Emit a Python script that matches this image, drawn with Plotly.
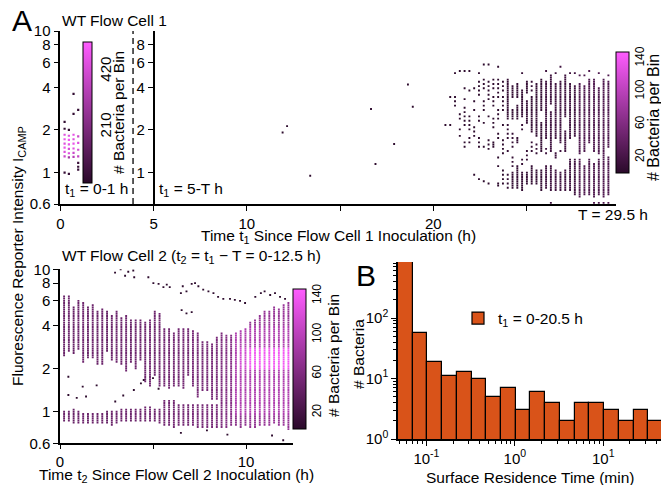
import numpy as np
import plotly.graph_objects as go

W, H = 661, 485

# ---------------- data ----------------
Y_TICKS = [0.6, 1, 2, 4, 6, 8, 10]
Y2_TICKS = [1, 2, 4, 6, 8]
X1_TICKS = [0, 5, 10, 15, 20, 25]
X1_TICKTEXT = ["0", "5", "10", "", "20", ""]
X2_TICKS = [0, 5, 10]
X2_TICKTEXT = ["0", "", "10"]
CB_TICKS_EARLY = [210, 420]
CB_TICKS = [20, 60, 100, 140]

# Flow cell 1, t1 = 0-1 h : bins (time h, intensity, bacteria per bin)
EARLY_T = [0.23, 0.23, 0.23, 0.23, 0.23, 0.23, 0.23, 0.23, 0.23,
           0.46, 0.46, 0.46, 0.46, 0.46, 0.46, 0.46, 0.46,
           0.71, 0.71, 0.71, 0.71, 0.71, 0.71, 0.71, 0.71,
           0.96, 0.96, 0.96, 0.96, 0.96, 0.96, 0.96, 0.96]
EARLY_I = [2.28, 2.04, 1.85, 1.72, 1.60, 1.50, 1.40, 1.30, 1.00,
           2.00, 1.82, 1.70, 1.58, 1.47, 1.37, 1.28, 0.98,
           3.60, 2.60, 1.85, 1.72, 1.60, 1.48, 1.38, 1.29,
           2.77, 1.80, 1.62, 1.45, 1.30, 1.17, 1.10, 1.05]
EARLY_N = [20, 20, 450, 480, 450, 480, 450, 400, 30,
           30, 450, 500, 470, 430, 450, 300, 30,
           20, 20, 470, 450, 480, 460, 400, 350,
           25, 400, 450, 420, 380, 40, 30, 30]

# Flow cell 1, isolated bins between 5 h and 20 h
MID_T = [11.92, 12.16, 13.40, 16.66, 16.90, 17.90, 18.64, 18.90]
MID_I = [1.92, 2.13, 0.95, 2.81, 1.15, 1.59, 4.19, 2.92]
MID_N = [3, 3, 3, 3, 3, 3, 3, 3]

# Flow cell 1, t1 = 20.6-29.4 h : per time column, occupied intensity runs
# [low, high, (every n-th bin)]
TR_T0, TR_DT = 20.65, 0.257
TR_COLS = [
    [[2.2, 2.2]],
    [[3.4, 3.4], [2.17, 2.17]],
    [[5.0, 5.0], [3.0, 3.5, 2]],
    [[5.3, 5.3], [2.4, 2.65, 2], [1.8, 2.1, 3]],
    [[5.15, 5.15], [3.9, 3.9], [3.3, 3.3], [2.15, 2.95, 2], [1.5, 1.7, 2]],
    [[5.15, 5.15], [3.85, 3.85], [2.0, 2.6, 2], [1.65, 1.75, 2]],
    [[3.9, 3.9], [3.2, 3.2], [2.8, 2.8], [1.8, 2.1, 2], [0.97, 0.97]],
    [[5.0, 5.0], [3.5, 4.3, 2], [2.35, 2.5, 2], [1.55, 1.73, 2], [0.9, 0.9]],
    [[5.74, 5.74], [3.9, 4.5, 2], [2.8, 3.2, 2], [2.26, 2.26], [1.55, 1.55], [0.86, 0.86]],
    [[5.85, 5.85], [3.3, 4.6, 2], [2.5, 2.5], [1.45, 1.73, 2], [0.84, 0.84]],
    [[4.0, 4.6, 2], [2.95, 3.5, 2], [2.1, 2.4, 2], [1.55, 1.65]],
    [[5.5, 5.5], [3.4, 4.5, 2], [2.4, 2.8, 2], [1.73, 1.93, 2], [1.3, 1.3], [1.1, 1.1], [0.8, 0.84]],
    [[3.85, 4.3, 2], [2.8, 3.46, 2], [2.14, 2.14], [1.37, 1.73, 2], [0.84, 1.04, 2]],
    [[2.38, 4.5], [1.73, 2.26, 2], [1.44, 1.44], [0.79, 1.0, 2]],
    [[3.46, 4.06], [2.38, 2.79], [1.55, 1.93, 2], [1.1, 1.3, 2], [0.79, 1.0]],
    [[3.46, 4.28], [2.38, 2.95], [1.64, 1.73], [0.79, 1.1]],
    [[5.0, 5.0], [2.5, 3.85], [2.03, 2.26, 2], [1.16, 1.3, 2], [0.75, 1.0]],
    [[3.65, 4.4], [2.26, 3.2], [1.23, 1.44, 2], [0.84, 0.99]],
    [[3.85, 4.51, 2], [1.93, 3.46], [1.44, 1.64, 2], [0.84, 1.1]],
    [[1.83, 4.28], [1.37, 1.64, 2], [0.84, 1.04]],
    [[2.79, 4.51], [1.44, 2.26], [0.75, 1.04]],
    [[5.3, 5.3], [1.73, 4.4], [1.37, 1.5, 2], [0.79, 1.1]],
    [[3.11, 4.8], [1.44, 2.65], [0.75, 1.1], [0.62, 0.62]],
    [[5.0, 5.0], [1.73, 4.28], [1.3, 1.37], [0.75, 1.04]],
    [[5.5, 5.5], [1.64, 4.4], [1.44, 1.44], [0.75, 0.99]],
    [[2.51, 4.9], [1.44, 1.93], [0.75, 1.04]],
    [[5.0, 5.0], [1.73, 4.28], [0.75, 1.23]],
    [[5.0, 5.0], [1.83, 4.06], [0.71, 1.23]],
    [[4.9, 4.9], [1.37, 4.28], [0.67, 1.23]],
    [[4.8, 4.8], [1.44, 4.06], [0.71, 1.1]],
    [[5.2, 5.2], [1.64, 4.5], [0.71, 1.23]],
    [[1.44, 4.5], [0.67, 1.16], [0.61, 0.61]],
    [[5.1, 5.1], [1.37, 4.0], [0.71, 1.23], [0.62, 0.62]],
    [[1.44, 4.51], [0.67, 1.37], [0.61, 0.61]],
    [[4.8, 4.8], [1.55, 4.4], [0.71, 1.3], [0.61, 0.61]],
]
TR_N = [3, 3, 3, 3, 3, 3, 3, 3, 3, 3, 3, 3, 3,
        8, 8, 8, 8, 8, 8, 8, 8,
        15, 15, 15, 15, 15, 15, 15,
        25, 25, 25, 25, 25, 25, 25]

# Flow cell 2, t2 = 0-12.5 h : per time column, upper and lower bands
BOT_T0, BOT_DT = 0.22, 0.2566
BOT_UP_LO = [2.47, 2.71, 2.56, 2.80, 2.25, 2.43, 2.37, 2.19, 2.13, 2.63, 2.31, 2.25,
             2.13, 1.92, 2.25, 2.03, 2.31, 1.63, 1.54, 1.81, 1.54, 1.54, 1.46, 1.54,
             1.50, 1.46, 1.80, 1.54, 1.30, 1.40, 1.40, 1.25, 1.25, 1.15, 1.10, 1.10,
             1.10, 1.10, 1.10, 1.10, 1.10, 1.10, 1.10, 1.10, 1.10, 1.10, 1.10, 1.10]
BOT_UP_HI = [6.39, 6.45, 5.46, 6.09, 5.80, 5.46, 5.60, 5.00, 5.17, 5.00, 4.77, 5.00,
             4.60, 4.77, 4.40, 4.30, 4.30, 4.20, 4.40, 5.00, 4.90, 3.75, 3.75, 3.60,
             3.85, 3.85, 3.75, 3.65, 3.55, 3.10, 3.10, 2.94, 3.28, 3.55, 3.46, 3.37,
             3.55, 3.65, 3.85, 4.20, 4.40, 4.77, 5.00, 5.00, 5.40, 5.30, 5.60, 5.90]
BOT_LOW_LO = [0.87, 0.87, 0.85, 0.85, 0.85, 0.85, 0.84, 0.84, 0.83, 0.85, 0.82, 0.85,
              0.86, 0.86, 0.87, 0.87, 0.87, 0.88, 0.88, 0.87, 0.85, 0.80, 0.80, 0.77,
              0.80, 0.80, 0.80, 0.80, 0.78, 0.78, 0.78, 0.78, 0.78, 0.78, 0.78, 0.80,
              0.80, 0.78, 0.80, 0.78, 0.78, 0.80, 0.80, 0.80, 0.83, 0.80, 0.80, 0.76]
BOT_LOW_HI = [1.00, 1.00, 1.05, 1.00, 0.98, 0.98, 0.98, 0.98, 0.98, 1.00, 1.00, 1.00,
              1.02, 1.04, 1.05, 1.05, 1.05, 1.06, 1.06, 1.05, 1.05, 1.20, 1.20, 1.20,
              1.10, 1.10, 1.10, 1.10, 1.10, 1.10, 1.10, 1.10, 1.10, 1.10, 1.10, 1.10,
              1.10, 1.10, 1.10, 1.10, 1.10, 1.10, 1.10, 1.10, 1.10, 1.10, 1.10, 1.10]
BOT_N = [45, 48, 43, 46, 48, 45, 47, 44, 46, 43, 45, 47,
         46, 48, 45, 47, 46, 48, 50, 47, 49, 50, 52, 50,
         51, 52, 50, 53, 54, 52, 55, 54, 56, 58, 62, 64,
         66, 68, 70, 72, 72, 74, 75, 75, 76, 76, 78, 75]
# brighter zones: [first column, last column, low I, high I, count]
BOT_ZONES = [[36, 47, 0.95, 4.0, 92],
             [37, 38, 2.0, 2.8, 115],
             [39, 47, 2.0, 2.8, 138]]
# isolated bins in flow cell 2
BOT_SP_T = [2.96, 3.26, 3.50, 3.67, 3.94, 3.99, 4.75, 5.02, 5.30, 5.56, 5.74, 5.90,
            6.50, 6.60, 6.80, 7.08, 7.26, 7.44, 7.70, 7.98, 8.25, 8.50, 8.78, 9.14,
            9.40, 9.68, 9.95, 10.50, 10.80, 11.00, 11.30, 11.56, 11.83, 12.10,
            6.54, 6.80, 7.08, 0.45, 0.45, 0.90, 1.22, 1.40, 1.97, 2.97, 3.40, 3.97,
            4.35, 4.50, 5.00, 5.30, 6.50, 7.90, 9.00, 11.40, 12.00]
BOT_SP_I = [9.47, 10.0, 9.0, 9.6, 9.8, 8.8, 8.8, 8.0, 7.9, 7.5, 7.8, 7.5,
            6.8, 7.6, 7.0, 7.9, 8.0, 7.6, 7.2, 7.0, 6.8, 6.4, 6.2, 6.2,
            6.1, 6.0, 5.8, 6.4, 6.8, 7.0, 6.6, 6.8, 6.4, 6.2,
            5.17, 4.9, 5.0, 1.76, 1.31, 1.25, 1.50, 1.28, 1.53, 1.18, 1.30, 1.42,
            1.58, 1.67, 1.72, 1.45, 0.71, 0.74, 0.69, 0.68, 0.63]

# Panel B histogram: log10 bin layout (min) and counts
B_LOG_EDGE0, B_LOG_BINW = -1.322, 0.1665
B_COUNTS = [850, 56, 19, 11, 13, 10, 5, 7, 3, 6, 4, 2, 4, 4, 3, 2, 3, 2]
B_XTICKS = [-1, 0, 1]
B_XTICKTEXT = ["10<sup>-1</sup>", "10<sup>0</sup>", "10<sup>1</sup>"]
B_YTICKS = [1, 10, 100]
B_YTICKTEXT = ["10<sup>0</sup>", "10<sup>1</sup>", "10<sup>2</sup>"]

# ---------------- helpers ----------------
def px(x):
    return x / W


def py(y):
    return 1 - y / H


LOG_LO = np.log10(0.6)
NBIN = 80
STEP = (1.0 - LOG_LO) / NBIN
CENTERS = LOG_LO + (np.arange(NBIN) + 0.5) * STEP


def bidx(v):
    return int(np.clip(round((np.log10(v) - LOG_LO) / STEP - 0.5), 0, NBIN - 1))


def run_bins(lo, hi, s=1):
    return list(range(bidx(lo), bidx(hi) + 1, s))


# top right cells
tr_x, tr_y, tr_c = list(MID_T), list(MID_I), list(MID_N)
for k, ivs in enumerate(TR_COLS):
    t = TR_T0 + TR_DT * k
    seen = set()
    for iv in ivs:
        s = iv[2] if len(iv) > 2 else 1
        for b in run_bins(iv[0], iv[1], s):
            if b in seen:
                continue
            seen.add(b)
            tr_x.append(t)
            tr_y.append(10 ** CENTERS[b])
            tr_c.append(TR_N[k])

# bottom cells
cells = {}
for k in range(len(BOT_N)):
    for b in run_bins(BOT_UP_LO[k], BOT_UP_HI[k]) + run_bins(BOT_LOW_LO[k], BOT_LOW_HI[k]):
        cells[(k, b)] = BOT_N[k]
for k0, k1, lo, hi, n in BOT_ZONES:
    for k in range(k0, k1 + 1):
        for b in run_bins(lo, hi):
            if (k, b) in cells:
                cells[(k, b)] = n
bot_x = [BOT_T0 + BOT_DT * k for (k, b) in cells] + BOT_SP_T
bot_y = [10 ** CENTERS[b] for (k, b) in cells] + BOT_SP_I
bot_c = list(cells.values()) + [6] * len(BOT_SP_T)

CSCALE = [[0, "#2a0a2a"], [1, "#ff5cff"]]
FONT = "Liberation Sans, Arial, sans-serif"
MS = 1.9
TICK = 15
TITLE = 15.5


def cbar(x0, thick, length, ycen, ticks, fsize):
    return dict(x=px(x0), xanchor="left", xpad=0, ypad=0,
                thickness=thick, thicknessmode="pixels",
                len=length, lenmode="pixels", y=py(ycen), yanchor="middle",
                tickvals=ticks, tickangle=-90, ticks="",
                tickfont=dict(size=fsize, family=FONT, color="black"),
                outlinewidth=1, outlinecolor="black")


fig = go.Figure()

fig.add_trace(go.Scatter(
    x=EARLY_T, y=EARLY_I, mode="markers", xaxis="x", yaxis="y", showlegend=False,
    marker=dict(symbol="square", size=2.2, color=EARLY_N, colorscale=CSCALE,
                cmin=1, cmax=532, showscale=True,
                colorbar=cbar(83, 9, 141, 112.2, CB_TICKS_EARLY, 15))))

fig.add_trace(go.Scatter(
    x=tr_x, y=tr_y, mode="markers", xaxis="x", yaxis="y", showlegend=False,
    marker=dict(symbol="square", size=MS, color=tr_c, colorscale=CSCALE,
                cmin=1, cmax=148, showscale=True,
                colorbar=cbar(616, 13, 121, 112.3, CB_TICKS, 12))))

fig.add_trace(go.Scatter(x=[None], y=[None], xaxis="x", yaxis="y2",
                         showlegend=False, mode="markers"))

fig.add_trace(go.Scatter(
    x=bot_x, y=bot_y, mode="markers", xaxis="x2", yaxis="y3", showlegend=False,
    marker=dict(symbol="square", size=MS, color=bot_c, colorscale=CSCALE,
                cmin=3, cmax=147, showscale=True,
                colorbar=cbar(293, 13, 140, 359, CB_TICKS, 12))))

b_centers = [B_LOG_EDGE0 + B_LOG_BINW * (k + 0.5) for k in range(len(B_COUNTS))]
fig.add_trace(go.Bar(
    x=b_centers, y=B_COUNTS, width=B_LOG_BINW, xaxis="x3", yaxis="y4",
    name="t<sub>1</sub> = 0-20.5 h", showlegend=True,
    marker=dict(color="#D95319", line=dict(color="black", width=1.2))))

axis_common = dict(showline=True, linecolor="black", linewidth=1.5, ticks="outside",
                   ticklen=5, tickwidth=1.3, tickcolor="black", showgrid=False,
                   zeroline=False, automargin=False,
                   tickfont=dict(size=TICK, family=FONT, color="black"))

top_x0, top_x1 = 60.3, 60.3 + 29.8 * 18.65
bot_x0, bot_x1 = 60.0, 60.0 + 12.5 * 18.6

x_minor = [np.log10(m * 10.0 ** d) for d in (-2, -1, 0, 1) for m in range(2, 10)
           if -1.3215 < np.log10(m * 10.0 ** d) < 1.653]
y_minor = [m * 10 ** d for d in (0, 1, 2) for m in range(2, 10) if m * 10 ** d < 840]

fig.update_layout(
    width=W, height=H, margin=dict(l=0, r=0, t=0, b=0, autoexpand=False),
    template="none",
    paper_bgcolor="white", plot_bgcolor="white",
    font=dict(family=FONT, size=TICK, color="black"),
    xaxis=dict(axis_common, domain=[px(top_x0), px(top_x1)], range=[0, 29.8],
               anchor="y", tickvals=X1_TICKS, ticktext=X1_TICKTEXT, linewidth=2),
    yaxis=dict(axis_common, domain=[py(204), py(31)], type="log",
               range=[np.log10(0.6), 1], anchor="x", tickvals=Y_TICKS,
               ticktext=[str(v) for v in Y_TICKS]),
    yaxis2=dict(axis_common, overlaying="y", anchor="free",
                position=px(top_x0 + 5 * 18.65), type="log",
                range=[np.log10(0.6), 1], tickvals=Y2_TICKS,
                ticktext=[str(v) for v in Y2_TICKS], side="left"),
    xaxis2=dict(axis_common, domain=[px(bot_x0), px(bot_x1)], range=[0, 12.5],
                anchor="y3", tickvals=X2_TICKS, ticktext=X2_TICKTEXT, linewidth=2,
                ticklen=4),
    yaxis3=dict(axis_common, domain=[py(443.3), py(269.3)], type="log",
                range=[np.log10(0.6), 1], anchor="x2", tickvals=Y_TICKS,
                ticktext=[str(v) for v in Y_TICKS]),
    xaxis3=dict(axis_common, domain=[px(398), 1.0], range=[-1.3215, 1.653],
                anchor="y4", tickvals=B_XTICKS, ticktext=B_XTICKTEXT,
                minor=dict(tickmode="array", tickvals=x_minor, ticks="outside",
                           ticklen=3, tickcolor="black", tickwidth=1)),
    yaxis4=dict(axis_common, domain=[py(439), py(262)], type="log",
                range=[0, 2.926], anchor="x3", tickvals=B_YTICKS,
                ticktext=B_YTICKTEXT,
                minor=dict(tickmode="array", tickvals=y_minor, ticks="outside",
                           ticklen=3, tickcolor="black", tickwidth=1)),
    bargap=0,
    legend=dict(x=px(458), y=py(318.5), xanchor="left", yanchor="middle",
                bgcolor="rgba(0,0,0,0)", font=dict(size=TITLE, family=FONT)),
    shapes=[dict(type="line", xref="x", yref="paper", x0=3.9, x1=3.9,
                 y0=py(204), y1=py(31), line=dict(color="black", width=1.3, dash="6px,4px"))],
)


def ann(text, x, y, size=TITLE, xanchor="center", angle=0):
    fig.add_annotation(text=text, x=px(x), y=py(y), xref="paper", yref="paper",
                       showarrow=False, xanchor=xanchor, yanchor="middle",
                       textangle=angle, font=dict(size=size, family=FONT, color="black"))


ann("A", 22, 21, size=30)
ann("B", 366, 275, size=30)
ann("WT Flow Cell 1", 60, 21, xanchor="left")
ann("t<sub>1</sub> = 0-1 h", 63, 190, xanchor="left")
ann("t<sub>1</sub> = 5-T h", 157, 190, xanchor="left")
ann("T = 29.5 h", 613, 214)
ann("Time t<sub>1</sub> Since Flow Cell 1 Inoculation (h)", 338, 236.5)
ann("Fluorescence Reporter Intensity I<sub>CAMP</sub>", 18, 256, angle=-90)
ann("WT Flow Cell 2 (t<sub>2</sub> = t<sub>1</sub> \u2212 T = 0-12.5 h)", 60, 256, xanchor="left")
ann("Time t<sub>2</sub> Since Flow Cell 2 Inoculation (h)", 176, 475.5)
ann("# Bacteria", 358, 354, angle=-90)
ann("Surface Residence Time (min)", 529.5, 477)
ann("# Bacteria per Bin", 118.5, 112.5, angle=-90)
ann("# Bacteria per Bin", 653, 118, size=16, angle=-90)
ann("# Bacteria per Bin", 333, 356, angle=-90)

fig.write_html("out.html", config={"displayModeBar": False},
               post_script="document.body.style.margin='0';document.body.style.overflow='hidden';")
